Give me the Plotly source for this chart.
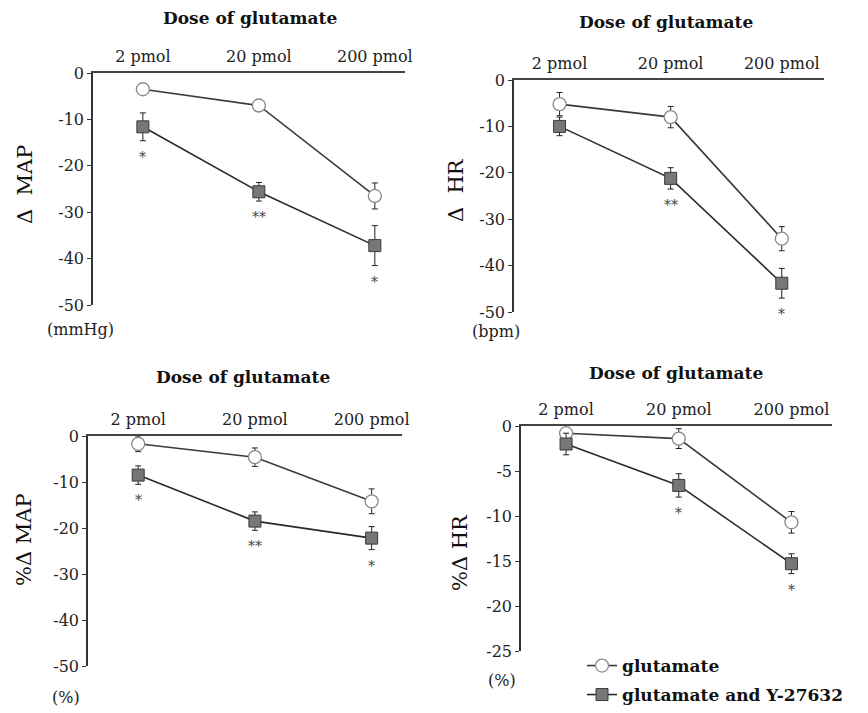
import plotly.graph_objects as go

W, H = 868, 713
FONT = "DejaVu Serif, Liberation Serif, serif"

doses = ["2 pmol", "20 pmol", "200 pmol"]

# Panel A: delta MAP (mmHg)
map_glu = [-3.5, -7.0, -26.5]
map_glu_err = [0.8, 1.3, 2.8]
map_y = [-11.6, -25.6, -37.2]
map_y_err = [3.0, 2.0, 4.3]
map_sig = ["*", "**", "*"]

# Panel B: delta HR (bpm)
hr_glu = [-5.2, -8.0, -34.2]
hr_glu_err = [2.5, 2.3, 2.6]
hr_y = [-10.0, -21.2, -43.8]
hr_y_err = [2.0, 2.3, 3.2]
hr_sig = ["", "**", "*"]

# Panel C: % delta MAP
pmap_glu = [-1.7, -4.6, -14.2]
pmap_glu_err = [1.7, 2.0, 2.7]
pmap_y = [-8.5, -18.5, -22.2]
pmap_y_err = [2.0, 2.0, 2.5]
pmap_sig = ["*", "**", "*"]

# Panel D: % delta HR
phr_glu = [-0.8, -1.4, -10.7]
phr_glu_err = [0.6, 1.1, 1.2]
phr_y = [-2.0, -6.6, -15.3]
phr_y_err = [1.2, 1.3, 1.1]
phr_sig = ["", "*", "*"]

ticks_50 = [0, -10, -20, -30, -40, -50]
ticks_50_text = ["0", "-10", "-20", "-30", "-40", "-50"]
ticks_25 = [0, -5, -10, -15, -20, -25]
ticks_25_text = ["0", "-5", "-10", "-15", "-20", "-25"]

panels = [
    dict(glu=map_glu, glue=map_glu_err, y=map_y, ye=map_y_err, sig=map_sig,
         xpx=(93, 405), ypx=(73, 305), xr=(-0.43, 2.26), yr=(-50, 0),
         tv=ticks_50, tt=ticks_50_text, ylab="\u0394  MAP", ylabpos=(25, 185),
         unit="(mmHg)", unitpos=(80, 329), titlepos=(250, 18)),
    dict(glu=hr_glu, glue=hr_glu_err, y=hr_y, ye=hr_y_err, sig=hr_sig,
         xpx=(514, 824), ypx=(80, 312), xr=(-0.41, 2.38), yr=(-50, 0),
         tv=ticks_50, tt=ticks_50_text, ylab="\u0394  HR", ylabpos=(456, 190),
         unit="(bpm)", unitpos=(496, 331), titlepos=(666, 22)),
    dict(glu=pmap_glu, glue=pmap_glu_err, y=pmap_y, ye=pmap_y_err, sig=pmap_sig,
         xpx=(88, 402), ypx=(436, 666), xr=(-0.43, 2.26), yr=(-50, 0),
         tv=ticks_50, tt=ticks_50_text, ylab="%\u0394 MAP", ylabpos=(24, 540),
         unit="(%)", unitpos=(66, 697), titlepos=(243, 377)),
    dict(glu=phr_glu, glue=phr_glu_err, y=phr_y, ye=phr_y_err, sig=phr_sig,
         xpx=(521, 832), ypx=(426, 651), xr=(-0.40, 2.36), yr=(-25, 0),
         tv=ticks_25, tt=ticks_25_text, ylab="%\u0394 HR", ylabpos=(460, 553),
         unit="(%)", unitpos=(502, 680), titlepos=(676, 373)),
]

fig = go.Figure()
annotations = []
layout = {}

for i, p in enumerate(panels):
    n = "" if i == 0 else str(i + 1)
    xa, ya = "x" + n, "y" + n
    showleg = i == 0
    fig.add_trace(go.Scatter(
        x=doses, y=p["glu"], xaxis=xa, yaxis=ya, mode="lines+markers",
        name="glutamate", legend="legend", showlegend=showleg,
        line=dict(color="#3a3a3a", width=1.6),
        marker=dict(symbol="circle", size=13, color="white",
                    line=dict(color="#8a8a8a", width=1.3)),
        error_y=dict(type="data", array=p["glue"], color="#222", thickness=1, width=3),
    ))
    fig.add_trace(go.Scatter(
        x=doses, y=p["y"], xaxis=xa, yaxis=ya, mode="lines+markers",
        name="glutamate and Y-27632", legend="legend2", showlegend=showleg,
        line=dict(color="#2a2a2a", width=1.6),
        marker=dict(symbol="square", size=12, color="#777777",
                    line=dict(color="#3a3a3a", width=1)),
        error_y=dict(type="data", array=p["ye"], color="#222", thickness=1, width=3),
    ))
    x0, x1 = p["xpx"]
    y0, y1 = p["ypx"]
    layout["xaxis" + n] = dict(
        domain=[x0 / W, x1 / W], anchor=ya, side="top", type="category",
        range=list(p["xr"]), showline=True, linecolor="#444", linewidth=2,
        ticks="", showgrid=False, zeroline=False, ticklabelstandoff=3,
        automargin=False,
        tickfont=dict(family=FONT, size=16, color="#222"),
    )
    layout["yaxis" + n] = dict(
        domain=[1 - y1 / H, 1 - y0 / H], anchor=xa, range=list(p["yr"]),
        showline=True, linecolor="#333", linewidth=1.5, ticks="outside",
        ticklen=4, tickwidth=1.2, tickcolor="#333", showgrid=False,
        zeroline=False, tickvals=p["tv"], ticktext=p["tt"], automargin=False,
        tickfont=dict(family=FONT, size=16, color="#222"),
    )
    # significance marks below the Y-27632 error bars
    for d, v, e, s in zip(doses, p["y"], p["ye"], p["sig"]):
        if s:
            annotations.append(dict(
                x=d, y=v - e, xref=xa, yref=ya, text=s, showarrow=False,
                xanchor="center", yanchor="top", yshift=-6,
                font=dict(family=FONT, size=14, color="#444")))
    tx, ty = p["titlepos"]
    annotations.append(dict(
        x=tx / W, y=1 - ty / H, xref="paper", yref="paper",
        xanchor="center", yanchor="middle",
        text="<b>Dose of glutamate</b>", showarrow=False,
        font=dict(family=FONT, size=17, color="#111")))
    lx, ly = p["ylabpos"]
    annotations.append(dict(
        x=lx / W, y=1 - ly / H, xref="paper", yref="paper", text=p["ylab"],
        xanchor="center", yanchor="middle",
        textangle=-90, showarrow=False,
        font=dict(family=FONT, size=21, color="#111")))
    ux, uy = p["unitpos"]
    annotations.append(dict(
        x=ux / W, y=1 - uy / H, xref="paper", yref="paper", text=p["unit"],
        xanchor="center", yanchor="middle",
        showarrow=False, font=dict(family=FONT, size=16, color="#222")))

leg_font = dict(family=FONT, size=17, color="#111", weight="bold")
fig.update_layout(
    width=W, height=H, margin=dict(l=0, r=0, t=0, b=0),
    plot_bgcolor="white", paper_bgcolor="white",
    annotations=annotations,
    showlegend=True,
    legend=dict(x=582 / W, y=1 - 666 / H, xanchor="left", yanchor="middle",
                bgcolor="rgba(0,0,0,0)", itemwidth=30, font=leg_font),
    legend2=dict(x=582 / W, y=0, xanchor="left", yanchor="bottom",
                 bgcolor="rgba(0,0,0,0)", itemwidth=30, font=leg_font),
    **layout,
)

fig.write_html(
    "out.html",
    config={"displayModeBar": False},
    post_script="document.body.style.margin='0';document.body.style.overflow='hidden';",
)
